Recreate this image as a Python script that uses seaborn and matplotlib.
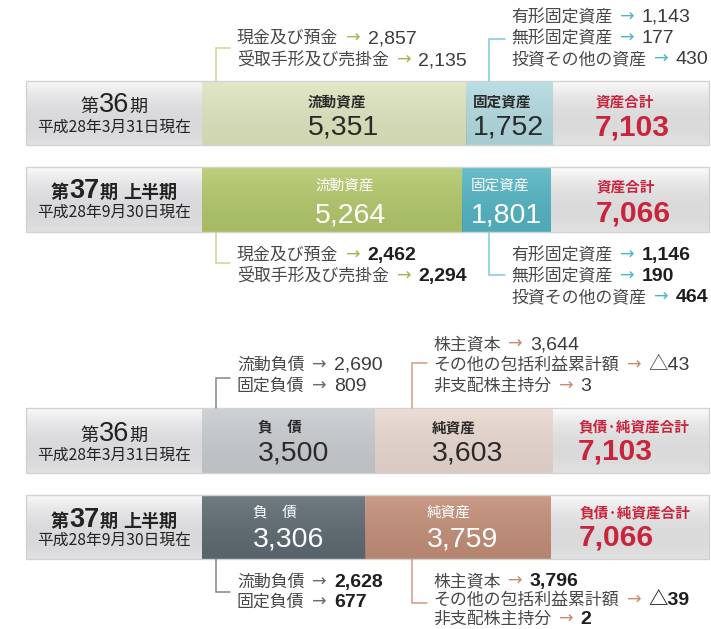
import numpy as np
import pandas as pd
import matplotlib
matplotlib.use("Agg")
import matplotlib.pyplot as plt
import seaborn as sns
from matplotlib.patches import Rectangle

# ---------------- data ----------------
period_nums = ["36", "37", "36", "37"]
period_suffix = ["", " 上半期", "", " 上半期"]
dates = ["平成28年3月31日現在", "平成28年9月30日現在", "平成28年3月31日現在", "平成28年9月30日現在"]
seg1_labels = ["流動資産", "流動資産", "負　債", "負　債"]
seg2_labels = ["固定資産", "固定資産", "純資産", "純資産"]
total_labels = ["資産合計", "資産合計", "負債·純資産合計", "負債·純資産合計"]
seg1_values = [5351, 5264, 3500, 3306]
seg2_values = [1752, 1801, 3603, 3759]
totals = [7103, 7066, 7103, 7066]

current_asset_items = ["現金及び預金", "受取手形及び売掛金"]
current_asset_36 = [2857, 2135]
current_asset_37 = [2462, 2294]
fixed_asset_items = ["有形固定資産", "無形固定資産", "投資その他の資産"]
fixed_asset_36 = [1143, 177, 430]
fixed_asset_37 = [1146, 190, 464]
liability_items = ["流動負債", "固定負債"]
liability_36 = [2690, 809]
liability_37 = [2628, 677]
equity_items = ["株主資本", "その他の包括利益累計額", "非支配株主持分"]
equity_36 = [3644, -43, 3]
equity_37 = [3796, -39, 2]

# ---------------- style / layout ----------------
sns.set_theme(style="white")
plt.rcParams["font.family"] = ["Noto Sans CJK JP", "DejaVu Sans"]
NUM = ["Liberation Sans", "Noto Sans CJK JP"]

W, H = 711, 629
X0, S = 202, 0.0494           # pixel of value 0, pixels per unit


def px(p):
    return (p - X0) / S


row_keys = ["a36", "a37", "l36", "l37"]
row_y = [113, 199.5, 440.5, 527]
bar_h = 64.5
seg1_colors = {"a36": "#dfe6bf", "a37": "#b3c96c", "l36": "#c9cdd0", "l37": "#5e6b72"}
seg2_colors = {"a36": "#b3dbe1", "a37": "#55b5c3", "l36": "#e9d9d1", "l37": "#c38f79"}
box_color = {k: "#ececec" for k in row_keys}
dark_rows = {"a37", "l37"}

fig = plt.figure(figsize=(W / 100, H / 100), dpi=100)
ax = fig.add_axes([0, 0, 1, 1])

df = pd.DataFrame({
    "row": row_keys, "y": row_y,
    "seg1": seg1_values, "seg2": seg2_values, "total": totals,
})
df["cum"] = df["seg1"] + df["seg2"]
df["box_end"] = px(709)
df["label_end"] = px(26)

min_gap = np.min(np.diff(sorted(row_y)))
wfrac = bar_h / min_gap
common = dict(data=df, y="y", orient="h", native_scale=True, hue="row",
              width=wfrac, saturation=1, errorbar=None, legend=False, ax=ax,
              linewidth=0)
sns.barplot(x="box_end", palette=box_color, **common)
sns.barplot(x="cum", palette=seg2_colors, **common)
sns.barplot(x="seg1", palette=seg1_colors, **common)
sns.barplot(x="label_end", palette=box_color, **common)

ax.set_xlim(px(0), px(W))
ax.set_ylim(H, 0)
ax.set_axis_off()


def gradient(x0, x1, yc, h, top_rgba, bot_rgba, z=2.5):
    n = 64
    t = np.linspace(0, 1, n)[:, None]
    top = np.array(top_rgba)
    bot = np.array(bot_rgba)
    img = (1 - t) * top + t * bot
    img = np.repeat(img[:, None, :], 2, axis=1)
    ax.imshow(img, extent=[x0, x1, yc + h / 2, yc - h / 2], aspect="auto",
              zorder=z, interpolation="bilinear")


for i, k in enumerate(row_keys):
    yc = row_y[i]
    e1 = seg1_values[i]
    e2 = e1 + seg2_values[i]
    gradient(px(26), 0, yc, bar_h, (1, 1, 1, 0.75), (0.55, 0.55, 0.6, 0.12))
    gradient(e2, px(709), yc, bar_h, (1, 1, 1, 0.85), (0.6, 0.6, 0.62, 0.12))
    gradient(0, e1, yc, bar_h, (1, 1, 1, 0.12), (0, 0, 0, 0.07))
    gradient(e1, e2, yc, bar_h, (1, 1, 1, 0.12), (0, 0, 0, 0.07))
    ax.add_patch(Rectangle((px(26), yc - bar_h / 2), px(709) - px(26), bar_h,
                           fill=False, ec="#d2d2d2", lw=1.0, zorder=3))

renderer = fig.canvas.get_renderer()


def seq(x_px, y_px, pieces, ha="left"):
    texts, widths = [], []
    for s, kw, gap in pieces:
        t = ax.text(0, y_px, s, va="baseline", ha="left", zorder=5, **kw)
        widths.append(t.get_window_extent(renderer).width + gap)
        texts.append(t)
    total = sum(widths)
    start = x_px - total / 2 if ha == "center" else x_px
    x = start
    for t, w in zip(texts, widths):
        t.set_x(px(x))
        x += w


# label boxes
comp_base = [112, 198, 441, 527]
date_base = [132, 217, 460, 545]
for i, k in enumerate(row_keys):
    bold = period_suffix[i] != ""
    fw = "bold" if bold else "normal"
    pieces = [("第", dict(fontsize=13, fontweight=fw, color="#222"), 0),
              (period_nums[i], dict(fontsize=19.5, fontweight=fw, family=NUM, color="#222"), 0),
              ("期", dict(fontsize=13, fontweight=fw, color="#222"), 0)]
    if bold:
        pieces[-1] = ("期", dict(fontsize=13, fontweight=fw, color="#222"), 6)
        pieces.append((period_suffix[i].strip(), dict(fontsize=13, fontweight=fw, color="#222"), 0))
    seq(114, comp_base[i], pieces, ha="center")
    ax.text(px(114.5), date_base[i], dates[i], fontsize=11.3, color="#222",
            ha="center", va="baseline", zorder=5)

# segment texts
lab_c = [101, 186, 427, 513]
num_b = [135, 222, 460, 546]
seg1_x = [308, 315, 258, 253]
seg2_x = [473, 471, 432, 427]
tot_x = [595, 596, 578, 579]
for i, k in enumerate(row_keys):
    dark = k in dark_rows
    tc = "white" if dark else "#2a2a2a"
    lw = "normal" if dark else "bold"
    ax.text(px(seg1_x[i]), lab_c[i], seg1_labels[i], fontsize=10.5, fontweight=lw,
            color=tc, va="center", ha="left", zorder=5)
    ax.text(px(seg1_x[i]), num_b[i], f"{seg1_values[i]:,}", fontsize=20.5, family=NUM,
            color=tc, va="baseline", ha="left", zorder=5)
    ax.text(px(seg2_x[i]), lab_c[i], seg2_labels[i], fontsize=10.5, fontweight=lw,
            color=tc, va="center", ha="left", zorder=5)
    ax.text(px(seg2_x[i]), num_b[i], f"{seg2_values[i]:,}", fontsize=20.5, family=NUM,
            color=tc, va="baseline", ha="left", zorder=5)
    ax.text(px(tot_x[i]), lab_c[i], total_labels[i], fontsize=10.5, fontweight="bold",
            color="#c8243c", va="center", ha="left", zorder=5)
    ax.text(px(tot_x[i]), num_b[i], f"{totals[i]:,}", fontsize=21.5, fontweight="bold",
            family=NUM, color="#c8243c", va="baseline", ha="left", zorder=5)


def fmt(v):
    return f"△{-v:,}" if v < 0 else f"{v:,}"


def block(items, values, x_px, bases, arrow_color, bold):
    for it, v, b in zip(items, values, bases):
        vkw = dict(fontsize=14, family=NUM, color="#1e1e1e" if bold else "#3c3c3c",
                   fontweight="bold" if bold else "normal")
        seq(x_px, b, [(it, dict(fontsize=12.2, color="#484848"), 8),
                      ("→", dict(fontsize=12.5, family=["DejaVu Sans"], color=arrow_color), 7),
                      (fmt(v), vkw, 0)])


def connector(x_px, y_from, y_to, x_end, color):
    ax.plot([px(x_px), px(x_px), px(x_end)], [y_from, y_to, y_to], color=color,
            lw=1.1, solid_joinstyle="miter", zorder=4)


GREEN_L, GREEN_A = "#c9d78f", "#9dbb4c"
CYAN_L, CYAN_A = "#7fcbd6", "#4fb5c5"
GRAY_L, GRAY_A = "#7d878c", "#666c70"
BROWN_L, BROWN_A = "#d29b86", "#c98a72"

# row 1 (assets, 36)
connector(216, 81, 48, 230, GREEN_L)
block(current_asset_items, current_asset_36, 237, [43, 65], GREEN_A, False)
connector(489, 81, 39, 505, CYAN_L)
block(fixed_asset_items, fixed_asset_36, 511, [22, 43, 64], CYAN_A, False)
# row 2 (assets, 37)
connector(216, 232, 263, 230, GREEN_L)
block(current_asset_items, current_asset_37, 237, [260, 281], GREEN_A, True)
connector(489, 232, 275, 505, CYAN_L)
block(fixed_asset_items, fixed_asset_37, 511, [260, 281, 302], CYAN_A, True)
# row 3 (liabilities, 36)
connector(216, 408, 378, 230, GRAY_L)
block(liability_items, liability_36, 237, [370, 391], GRAY_A, False)
connector(412, 408, 363, 427, BROWN_L)
block(equity_items, equity_36, 433, [349, 370, 391], BROWN_A, False)
# row 4 (liabilities, 37)
connector(216, 559, 592, 230, GRAY_L)
block(liability_items, liability_37, 237, [587, 607], GRAY_A, True)
connector(412, 559, 603, 427, BROWN_L)
block(equity_items, equity_37, 433, [586, 605, 624], BROWN_A, True)

fig.savefig("out.png", dpi=100)
